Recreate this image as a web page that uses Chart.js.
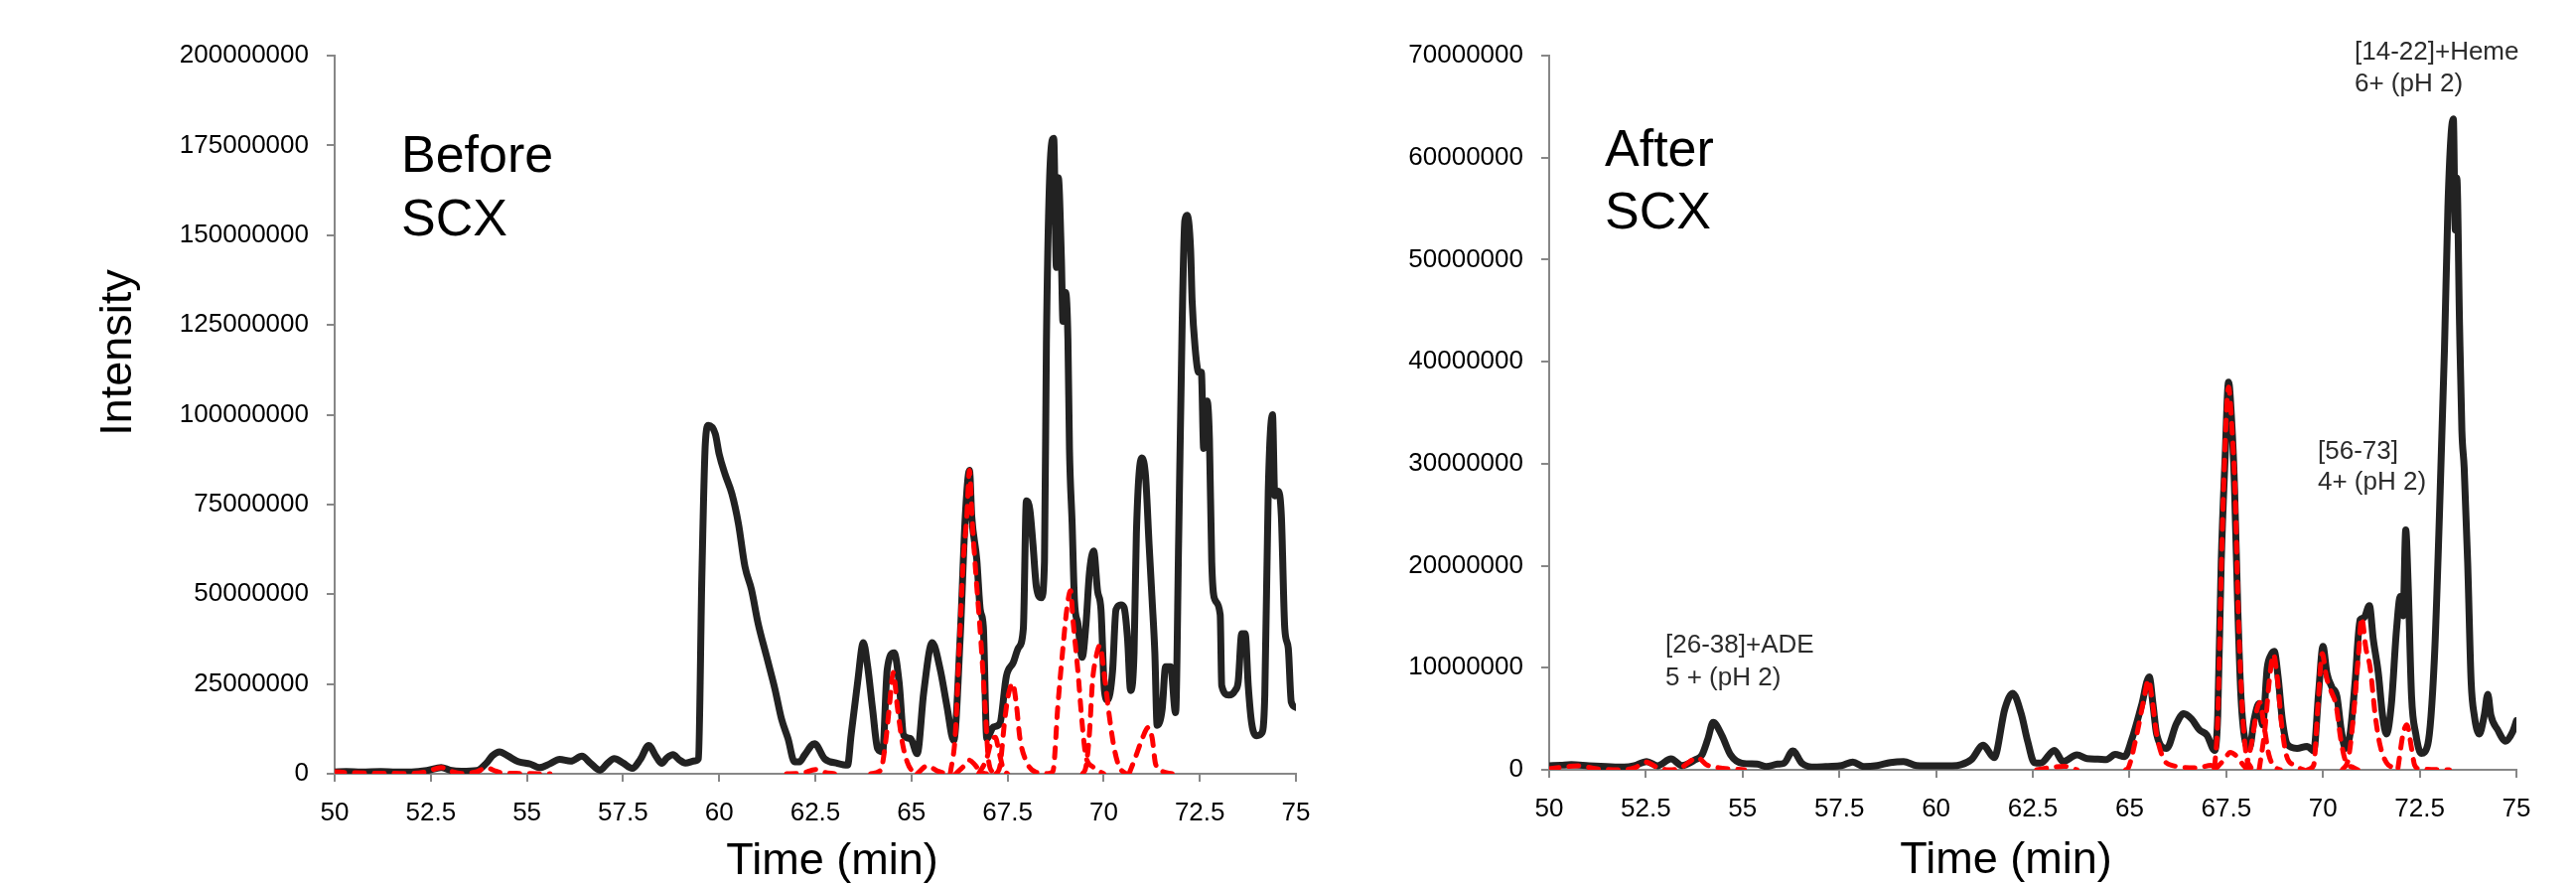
<!DOCTYPE html>
<html>
<head>
<meta charset="utf-8">
<title>Before / After SCX</title>
<script src="https://cdn.jsdelivr.net/npm/chart.js@4.4.1/dist/chart.umd.min.js"></script>
<style>
  html, body { margin: 0; padding: 0; background: #fff; }
  #wrap { position: relative; width: 2594px; height: 891px; overflow: hidden; }
  canvas { position: absolute; top: 0; }
  #before { left: 0; }
  #after { left: 1340px; }
</style>
</head>
<body>
<div id="wrap">
  <canvas id="before" width="1340" height="891"></canvas>
  <canvas id="after" width="1254" height="891"></canvas>
</div>
<script>
// ── Data ──────────────────────────────────────────
// time in min, intensity in millions of counts

const timeTicks = [50, 52.5, 55, 57.5, 60, 62.5, 65, 67.5, 70, 72.5, 75];
const beforeYTicks = [0, 25, 50, 75, 100, 125, 150, 175, 200];
const afterYTicks = [0, 10, 20, 30, 40, 50, 60, 70];

// Before SCX: total trace (black)
const beforeTic = [
  [50.0, 0.5], [50.3, 0.6], [50.7, 0.5], [51.2, 0.6], [51.6, 0.5], [52.0, 0.5],
  [52.4, 0.9], [52.77, 1.75], [53.0, 1.0], [53.3, 0.7], [53.7, 0.9], [53.95, 3.0],
  [54.1, 5.0], [54.29, 6.1], [54.5, 5.0], [54.79, 3.3], [55.09, 2.7], [55.33, 1.7],
  [55.6, 2.8], [55.85, 4.0], [56.14, 3.5], [56.43, 4.9], [56.65, 3.0], [56.9, 1.0],
  [57.1, 3.0], [57.27, 4.2], [57.5, 3.0], [57.74, 1.5], [57.95, 4.0], [58.17, 7.9],
  [58.35, 5.0], [58.5, 2.9], [58.65, 4.5], [58.8, 5.3], [58.95, 4.0], [59.12, 3.0],
  [59.38, 3.6], [59.46, 4.2], [59.55, 55], [59.64, 92], [59.72, 97], [59.9, 94.6],
  [60.0, 89], [60.15, 83.5], [60.33, 78], [60.5, 69.7], [60.67, 57.7], [60.84, 51.3],
  [61.01, 42], [61.23, 32.8], [61.45, 23.6], [61.62, 15.3], [61.79, 9.8], [61.96, 3.3],
  [62.09, 3.3], [62.22, 5.2], [62.48, 8.4], [62.74, 4.2], [63.08, 2.9], [63.34, 2.4],
  [63.43, 10.7], [63.6, 25.4], [63.75, 36.5], [63.86, 30], [63.99, 18], [64.12, 7],
  [64.25, 6.1], [64.37, 29], [64.55, 33.7], [64.68, 25.4], [64.8, 10.7], [64.98, 9.8],
  [65.15, 5.6], [65.32, 22.7], [65.54, 36.5], [65.75, 29], [65.92, 19], [66.1, 9.3],
  [66.27, 38.4], [66.4, 71.5], [66.51, 84.5], [66.57, 71.5], [66.7, 59.6], [66.79, 45.7],
  [66.87, 41], [66.96, 9.8], [67.13, 13], [67.3, 14], [67.47, 27.2], [67.65, 31],
  [67.78, 35], [67.91, 40.4], [67.99, 76], [68.08, 73.5], [68.16, 64], [68.25, 52],
  [68.38, 49], [68.46, 59], [68.51, 119.7], [68.59, 164.7], [68.7, 177], [68.77, 141],
  [68.82, 166], [68.9, 143.5], [68.94, 126], [69.01, 134], [69.07, 121], [69.11, 90.6],
  [69.18, 69.5], [69.24, 48.3], [69.33, 41.7], [69.44, 32.4], [69.54, 41.7], [69.63, 56],
  [69.74, 62], [69.84, 51], [69.93, 45.7], [70.02, 23.2], [70.1, 20.5], [70.23, 28.5],
  [70.32, 45.7], [70.45, 47], [70.53, 46.3], [70.62, 37.7], [70.7, 23.2], [70.79, 33.8],
  [70.85, 66.8], [70.99, 88], [71.09, 82.7], [71.18, 64], [71.26, 48.3], [71.33, 33.8],
  [71.39, 13.5], [71.52, 17.9], [71.61, 29.8], [71.74, 29.8], [71.87, 17.0], [71.95, 65.5],
  [72.04, 125], [72.11, 154], [72.17, 155.5], [72.26, 146], [72.3, 131.6], [72.38, 118.4],
  [72.47, 111.8], [72.54, 111.8], [72.6, 90.6], [72.69, 103.8], [72.75, 93.3], [72.81, 59],
  [72.9, 48.3], [73.03, 44.3], [73.07, 24.5], [73.25, 21.9], [73.42, 23.2], [73.5, 25.8],
  [73.59, 39], [73.68, 39], [73.76, 24.5], [73.85, 14], [73.98, 10.6], [74.11, 11.3],
  [74.19, 21.9], [74.28, 78.7], [74.39, 100], [74.45, 77.4], [74.54, 78.7], [74.62, 72],
  [74.71, 40.4], [74.8, 35], [74.88, 19.9], [75.0, 18.5]
];

// Before SCX: extracted ion traces (red dashed), one list per peak
const beforeXic1 = [[50.0, 0.55], [50.4, 0.3], [51.0, 0.15], [52.0, 0.1], [52.4, 0.6], [52.77, 1.75],
  [53.05, 0.6], [53.3, 0.1], [53.7, 0.6], [53.95, 1.7], [54.15, 0.9], [54.33, 0.3], [54.8, 0.1], [55.6, 0]];
const beforeXic2 = [[61.75, 0], [62.13, 0.1], [62.52, 1.2], [62.74, 0.4], [63.0, 0]];
const beforeXic3 = [[63.94, 0], [64.2, 1], [64.33, 8.9], [64.42, 18], [64.53, 28.2], [64.63, 19],
  [64.76, 8.9], [64.89, 3.3], [65.06, 0.4], [65.2, 0]];
const beforeXic4 = [[65.15, 0], [65.41, 2.2], [65.67, 0.8], [65.92, 0]];
const beforeXic5 = [[66.01, 0], [66.14, 10.7], [66.25, 36.5], [66.35, 59.6], [66.44, 71.5], [66.51, 84.5],
  [66.58, 70.6], [66.68, 55], [66.81, 36.5], [66.92, 18], [67.0, 4.2], [67.13, 0]];
const beforeXic6 = [[66.15, 0], [66.35, 2], [66.5, 3.8], [66.65, 2.5], [66.8, 0.5], [66.95, 0]];
const beforeXic7 = [[66.75, 0], [66.95, 4], [67.08, 9], [67.18, 10.2], [67.28, 6], [67.4, 1], [67.5, 0]];
const beforeXic8 = [[67.2, 0], [67.3, 2], [67.43, 15.3], [67.52, 21.9], [67.63, 25.2], [67.73, 19.2],
  [67.82, 10], [67.99, 3.4], [68.25, 0.4], [68.6, 0]];
const beforeXic9 = [[68.55, 0], [68.68, 0.7], [68.81, 19.2], [68.94, 35], [69.04, 45.7], [69.14, 51],
  [69.2, 43], [69.33, 28.5], [69.44, 14], [69.54, 4.7], [69.71, 2], [69.89, 0.7], [70.0, 0]];
const beforeXic10 = [[69.45, 0], [69.54, 2], [69.63, 11.3], [69.71, 25.8], [69.8, 32.4], [69.9, 35.7],
  [70.02, 27.2], [70.14, 16.6], [70.27, 7.3], [70.4, 2], [70.58, 0]];
const beforeXic11 = [[70.66, 0], [70.83, 4.7], [71.01, 10], [71.16, 12.9], [71.26, 10], [71.35, 2.7],
  [71.52, 0.7], [71.78, 0]];

// After SCX: total trace (black)
const afterTic = [
  [50.0, 0.4], [50.3, 0.45], [50.57, 0.5], [51.03, 0.4], [51.48, 0.32], [51.94, 0.26],
  [52.2, 0.4], [52.52, 0.81], [52.8, 0.4], [53.15, 1.07], [53.43, 0.42], [53.78, 1.0],
  [53.95, 1.46], [54.1, 3.0], [54.24, 4.64], [54.46, 3.4], [54.69, 1.46], [54.98, 0.65],
  [55.38, 0.55], [55.61, 0.32], [55.9, 0.55], [56.07, 0.65], [56.3, 1.85], [56.53, 0.65],
  [56.87, 0.26], [57.21, 0.32], [57.56, 0.42], [57.85, 0.75], [58.13, 0.32], [58.48, 0.42],
  [58.82, 0.71], [59.16, 0.81], [59.5, 0.42], [59.96, 0.39], [60.42, 0.39], [60.64, 0.49],
  [60.91, 1.0], [61.22, 2.4], [61.5, 1.2], [61.78, 6.0], [61.98, 7.5], [62.2, 5.5],
  [62.37, 2.76], [62.54, 0.7], [62.7, 0.65], [63.06, 1.9], [63.28, 0.8], [63.64, 1.45],
  [63.9, 1.1], [64.18, 1.05], [64.4, 1.0], [64.63, 1.5], [64.87, 1.3], [65.06, 3.0],
  [65.31, 6.3], [65.51, 9.1], [65.61, 6.3], [65.7, 3.5], [65.96, 2.1], [66.21, 4.5],
  [66.4, 5.5], [66.6, 5.0], [66.81, 3.9], [67.0, 3.4], [67.2, 1.9], [67.28, 5.3],
  [67.37, 20.3], [67.47, 30.5], [67.56, 38.0], [67.64, 34.2], [67.71, 28.2], [67.8, 15.6],
  [67.88, 7.2], [68.01, 2.5], [68.1, 2.1], [68.22, 4.9], [68.35, 6.5], [68.44, 4.4],
  [68.56, 10], [68.65, 11.2], [68.74, 11.6], [68.84, 9.1], [68.95, 4.9], [69.08, 2.5],
  [69.33, 2.1], [69.59, 2.3], [69.76, 1.85], [69.89, 7.7], [70.0, 12.1], [70.1, 9.5],
  [70.23, 8.1], [70.36, 7.2], [70.47, 3.95], [70.58, 2.1], [70.7, 3.5], [70.83, 8.6],
  [70.96, 14.7], [71.06, 14.9], [71.2, 16.1], [71.3, 12.8], [71.43, 9.5], [71.54, 5.35],
  [71.64, 3.5], [71.77, 6.5], [71.9, 13.7], [72.0, 17], [72.07, 15.1], [72.14, 23.5],
  [72.2, 18.4], [72.29, 7.2], [72.4, 3.5], [72.54, 1.6], [72.71, 2.5], [72.88, 10.9],
  [73.01, 24.9], [73.14, 41.2], [73.23, 55.2], [73.31, 62.2], [73.37, 63.8], [73.42, 52.9],
  [73.46, 58], [73.53, 43.6], [73.59, 33.3], [73.65, 29.6], [73.74, 20.3], [73.83, 8.6],
  [73.91, 5.35], [74.04, 3.5], [74.17, 5.35], [74.26, 7.4], [74.34, 5.35], [74.51, 3.95],
  [74.72, 2.8], [74.9, 3.7], [75.0, 4.8]
];

// After SCX: extracted ion traces (red dashed)
const afterXic1 = [[50.0, 0.1], [50.44, 0.3], [50.74, 0.4], [51.23, 0.1], [51.91, 0], [52.21, 0.2],
  [52.5, 0.75], [52.8, 0.23], [53.09, 0], [53.39, 0.16], [53.63, 0.8], [53.83, 1.2], [54.07, 0.49],
  [54.47, 0.16], [55.05, 0]];
const afterXic2 = [[62.6, 0], [63.0, 0.25], [63.3, 0.35], [63.64, 0]];
const afterXic3 = [[64.9, 0], [64.97, 0.2], [65.19, 3.5], [65.36, 6.7], [65.49, 8.8], [65.59, 6.7],
  [65.7, 3.5], [65.87, 1.15], [66.08, 0.45], [66.77, 0.2], [67.11, 0.45], [67.25, 0]];
const afterXic4 = [[67.2, 0.2], [67.28, 4.9], [67.37, 19.3], [67.45, 29.6], [67.56, 37.5], [67.65, 33.3],
  [67.73, 27.2], [67.81, 15.6], [67.91, 6.3], [68.01, 1.6], [68.14, 0.2]];
const afterXic5 = [[67.2, 0], [67.45, 1.0], [67.6, 1.7], [67.8, 1.2], [67.95, 0.4], [68.1, 0]];
const afterXic6 = [[68.0, 0], [68.15, 2.5], [68.3, 6], [68.37, 6.6], [68.47, 4.5], [68.6, 1.5],
  [68.75, 0.3], [68.9, 0]];
const afterXic7 = [[68.35, 0], [68.5, 4], [68.62, 9], [68.72, 11.3], [68.82, 9], [68.93, 4.5],
  [69.05, 1.5], [69.25, 0.45], [69.5, 0]];
const afterXic8 = [[69.6, 0], [69.76, 0.45], [69.87, 6.3], [69.98, 11.4], [70.09, 9.07], [70.21, 7.7],
  [70.34, 6.3], [70.46, 3.0], [70.58, 0.9], [70.79, 0.2], [70.9, 0]];
const afterXic9 = [[70.5, 0], [70.66, 1.15], [70.79, 5.35], [70.92, 11.4], [71.0, 14.9], [71.11, 11.9],
  [71.22, 10], [71.35, 5.35], [71.47, 2.5], [71.64, 0.7], [71.82, 0.2], [71.9, 0]];
const afterXic10 = [[71.94, 0.2], [72.07, 3.5], [72.17, 4.4], [72.29, 2.1], [72.37, 0.45], [72.5, 0.1],
  [73.27, 0]];

// ── Styling ───────────────────────────────────────
const FONT = "'Liberation Sans', Arial, sans-serif";
const TIC_COLOR = '#222222';
const XIC_COLOR = '#ff0000';
const AXIS_COLOR = '#878787';
const NOTE_COLOR = '#2b2b2b';

function toPoints(pairs) {
  return pairs.map(p => ({ x: p[0], y: p[1] }));
}

function ticDataset(pairs) {
  return {
    data: toPoints(pairs),
    showLine: true,
    borderColor: TIC_COLOR,
    borderWidth: 7,
    borderJoinStyle: 'round',
    borderCapStyle: 'round',
    cubicInterpolationMode: 'monotone',
    pointRadius: 0,
    fill: false,
    order: 1
  };
}

function xicDataset(pairs) {
  return {
    data: toPoints(pairs),
    showLine: true,
    borderColor: XIC_COLOR,
    borderWidth: 5,
    borderDash: [10, 10],
    borderCapStyle: 'round',
    borderJoinStyle: 'round',
    cubicInterpolationMode: 'monotone',
    pointRadius: 0,
    fill: false,
    order: 0
  };
}

// free text (panel names, axis titles, peak notes), canvas pixel coordinates
const textPlugin = {
  id: 'textLabels',
  afterDraw(chart, args, opts) {
    const ctx = chart.ctx;
    (opts.items || []).forEach(it => {
      ctx.save();
      ctx.font = it.size + 'px ' + FONT;
      ctx.fillStyle = it.color || '#000';
      ctx.textAlign = it.align || 'left';
      ctx.textBaseline = 'alphabetic';
      ctx.translate(it.x, it.y);
      if (it.rotate) ctx.rotate(it.rotate);
      it.lines.forEach((line, i) => ctx.fillText(line, 0, i * (it.gap || 0)));
      ctx.restore();
    });
  }
};

function axisGrid() {
  return { drawOnChartArea: false, drawTicks: true, tickLength: 8, color: AXIS_COLOR, lineWidth: 2 };
}

function buildChart(canvas, cfg) {
  return new Chart(canvas, {
    type: 'scatter',
    data: {
      datasets: cfg.xics.map(xicDataset).concat([ticDataset(cfg.tic)])
    },
    options: {
      responsive: false,
      animation: false,
      devicePixelRatio: 1,
      layout: { padding: { top: cfg.top, right: cfg.right, bottom: 0, left: 0 } },
      plugins: {
        legend: { display: false },
        tooltip: { enabled: false },
        textLabels: { items: cfg.labels }
      },
      scales: {
        x: {
          type: 'linear',
          min: 50,
          max: 75,
          afterBuildTicks: s => { s.ticks = timeTicks.map(v => ({ value: v })); },
          afterFit: s => { s.height = cfg.xHeight; },
          grid: axisGrid(),
          border: { color: AXIS_COLOR, width: 2 },
          ticks: {
            font: { family: FONT, size: 26 },
            color: '#000',
            padding: 16,
            maxRotation: 0,
            autoSkip: false,
            callback: v => String(v)
          }
        },
        y: {
          type: 'linear',
          min: 0,
          max: cfg.yTicks[cfg.yTicks.length - 1],
          afterBuildTicks: s => { s.ticks = cfg.yTicks.map(v => ({ value: v })); },
          afterFit: s => { s.width = cfg.yWidth; },
          grid: axisGrid(),
          border: { color: AXIS_COLOR, width: 2 },
          ticks: {
            font: { family: FONT, size: 26 },
            color: '#000',
            padding: 18,
            autoSkip: false,
            callback: v => String(Math.round(v * 1000000))
          }
        }
      }
    },
    plugins: [textPlugin]
  });
}

// ── Before SCX ────────────────────────────────────
buildChart(document.getElementById('before'), {
  tic: beforeTic,
  xics: [beforeXic1, beforeXic2, beforeXic3, beforeXic4, beforeXic5, beforeXic6,
         beforeXic7, beforeXic8, beforeXic9, beforeXic10, beforeXic11],
  yTicks: beforeYTicks,
  top: 56, right: 35, xHeight: 112, yWidth: 337,
  labels: [
    { lines: ['Before', 'SCX'], x: 404, y: 173, gap: 64, size: 52 },
    { lines: ['Intensity'], x: 132, y: 355, size: 45, align: 'center', rotate: -Math.PI / 2 },
    { lines: ['Time (min)'], x: 838, y: 880, size: 45, align: 'center' }
  ]
});

// ── After SCX ─────────────────────────────────────
buildChart(document.getElementById('after'), {
  tic: afterTic,
  xics: [afterXic1, afterXic2, afterXic3, afterXic4, afterXic5, afterXic6,
         afterXic7, afterXic8, afterXic9, afterXic10],
  yTicks: afterYTicks,
  top: 56, right: 60, xHeight: 116, yWidth: 220,
  labels: [
    { lines: ['After', 'SCX'], x: 276, y: 167, gap: 63, size: 52 },
    { lines: ['[26-38]+ADE', '5 + (pH 2)'], x: 337, y: 657, gap: 33, size: 26, color: NOTE_COLOR },
    { lines: ['[56-73]', '4+ (pH 2)'], x: 994, y: 462, gap: 31, size: 26, color: NOTE_COLOR },
    { lines: ['[14-22]+Heme', '6+ (pH 2)'], x: 1031, y: 60, gap: 32, size: 26, color: NOTE_COLOR },
    { lines: ['Time (min)'], x: 680, y: 879, size: 45, align: 'center' }
  ]
});
</script>
</body>
</html>
